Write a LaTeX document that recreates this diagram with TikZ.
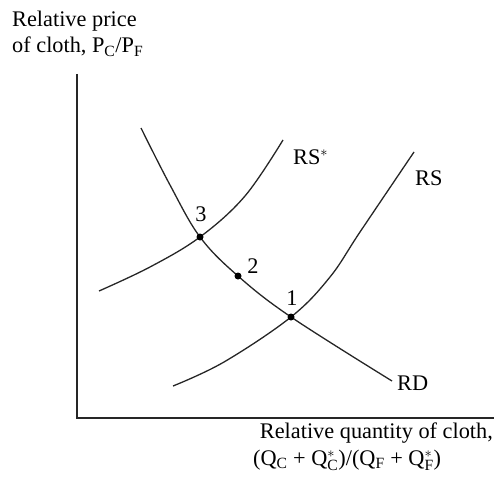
\documentclass[tikz,border=0pt]{standalone}
\usepackage{fontspec}
\setmainfont{Liberation Serif}
\begin{document}
\begin{tikzpicture}[x=1pt,y=-1pt,
  curve/.style={line width=1.3pt,black!85},
  axis/.style={line width=2pt,black!85},
  lbl/.style={font=\fontsize{22.3}{25}\selectfont,inner sep=0pt},
  dot/.style={circle,fill=black,inner sep=0pt,minimum size=7pt}]
\useasboundingbox (0,0) rectangle (494,476);
% axes
\coordinate (top) at (77,74);
\coordinate (orig) at (77,418);
\coordinate (xend) at (494,418);
\draw[axis] (top) -- (orig) -- (xend);
% points
\coordinate (p3) at (200,237);
\coordinate (p2) at (238,276);
\coordinate (p1) at (291,317);
% RS*
\draw[curve] plot[smooth,tension=0.6] coordinates {(99,291) (150,267) (200,237) (245,196) (283,140)};
% RS
\draw[curve] plot[smooth,tension=0.6] coordinates {(173,386) (224,362) (291,317) (330,277) (360,232) (414,152)};
% RD
\draw[curve] plot[smooth,tension=0.6] coordinates {(141,128) (170,185) (200,237) (238,276) (291,317) (392,381)};
\node[dot] (d3) at (p3) {};
\node[dot] (d2) at (p2) {};
\node[dot] (d1) at (p1) {};
\node[lbl,anchor=base] (l3) at (201,221) {3};
\node[lbl,anchor=base] (l2) at (253,273) {2};
\node[lbl,anchor=base] (l1) at (292,305) {1};
\node[lbl,anchor=base west] (rss) at (293,164) {RS$^{*}$};
\node[lbl,anchor=base west] (rs) at (415,185) {RS};
\node[lbl,anchor=base west] (rd) at (397,390) {RD};
\node[lbl,anchor=base west] (yl) at (12,27) {Relative price};
\node[lbl,anchor=base west] (yl2) at (12,53) {of cloth, P\textsubscript{C}/P\textsubscript{F}};
\node[lbl,anchor=base east] (xl) at (493,438) {Relative quantity of cloth,};
\node[lbl,anchor=base west] (xl2) at (253,465) {(Q\textsubscript{C} + Q$^{*}_{\mathrm{C}}$)/(Q\textsubscript{F} + Q$^{*}_{\mathrm{F}}$)};
\end{tikzpicture}
\end{document}
